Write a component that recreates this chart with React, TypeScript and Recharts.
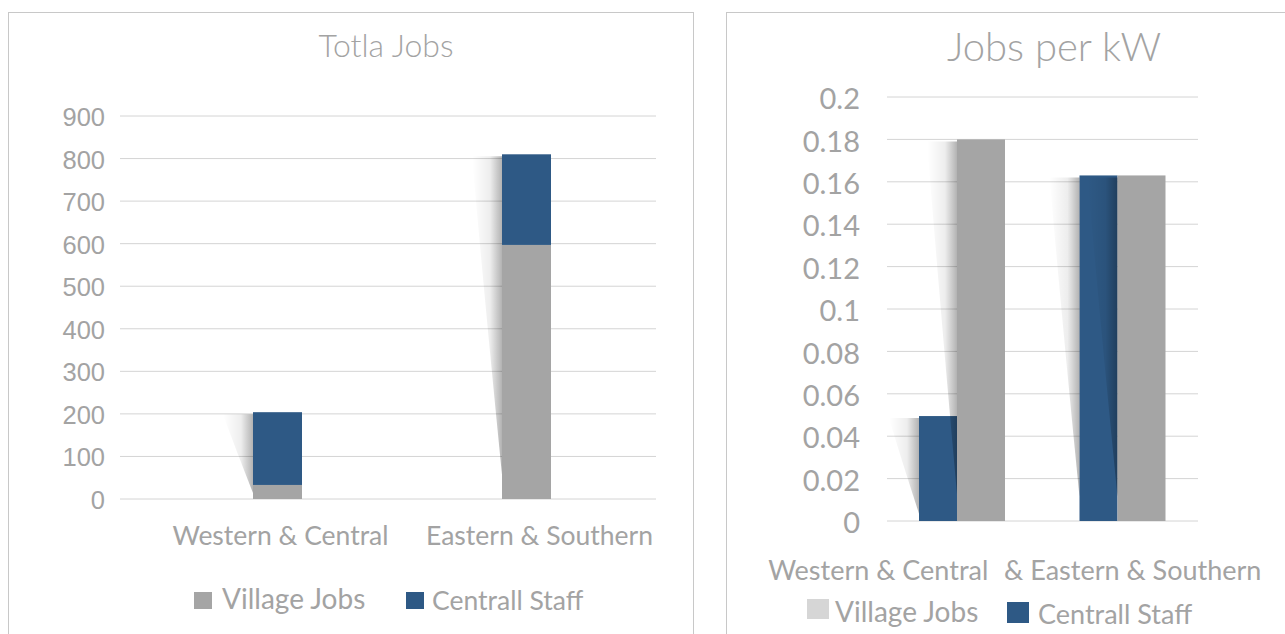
import React from 'react';
import { BarChart, Bar, XAxis, YAxis, CartesianGrid, Legend } from 'recharts';

const regions = ['Western & Central', 'Eastern & Southern'];
const perKwLabels = ['Western & Central', '& Eastern & Southern'];
const villageJobs = [33, 597];
const centralStaff = [171, 213];
const villagePerKw = [0.18, 0.163];
const centralPerKw = [0.0495, 0.163];
const totalTicks = [0, 100, 200, 300, 400, 500, 600, 700, 800, 900];
const perKwTicks = [0, 0.02, 0.04, 0.06, 0.08, 0.1, 0.12, 0.14, 0.16, 0.18, 0.2];
const seriesNames = ['Village Jobs', 'Centrall Staff'];

const totalData = regions.map((r, i) => ({ region: r, village: villageJobs[i], central: centralStaff[i] }));
const perKwData = perKwLabels.map((r, i) => ({ region: r, village: villagePerKw[i], central: centralPerKw[i] }));

const GRAY = '#a5a5a5';
const BLUE = '#2e5985';
const LIGHT = '#d6d6d6';
const TEXT = '#a3a3a3';
const FONT = 'Lato, "Open Sans", sans-serif';

const makeShape = (prefix: string, color: string, shadow: boolean) => (props: any) => {
  const { x, y, width, height, value, index } = props;
  if (width == null || height == null) return null;
  let base = y + height;
  if (Array.isArray(value) && value[1] !== value[0] && height > 0) {
    const ppu = height / (value[1] - value[0]);
    base = y + height + value[0] * ppu;
  }
  const full = base - y;
  const sw = 30;
  const gid = `${prefix}-${index}`;
  return (
    <g>
      <rect x={x} y={y} width={width} height={height} fill={color} />
      {shadow && full > 0 && (
        <g>
          <defs>
            <linearGradient id={gid} x1="0" y1="0" x2="1" y2="0">
              <stop offset="0%" stopColor="#000" stopOpacity={0} />
              <stop offset="60%" stopColor="#000" stopOpacity={0.07} />
              <stop offset="100%" stopColor="#000" stopOpacity={0.3} />
            </linearGradient>
          </defs>
          <path
            d={`M${x},${y + 2} L${x - sw},${y + 2} Q${x - sw * 0.55},${y + full * 0.45} ${x},${y + full * 0.93} Z`}
            fill={`url(#${gid})`}
          />
        </g>
      )}
    </g>
  );
};

const leftTickShift = [3, 13];
const LeftXTick = (props: any) => {
  const { x, y, payload, index } = props;
  return (
    <text x={x + leftTickShift[index]} y={y} dy={37.5} textAnchor="middle" fill={TEXT} fontFamily={FONT} fontSize={26.5}>
      {payload.value}
    </text>
  );
};

const rightTickShift = [-84, 10];
const RightXTick = (props: any) => {
  const { x, y, payload, index } = props;
  return (
    <text x={x + rightTickShift[index]} y={y} dy={51} textAnchor="middle" fill={TEXT} fontFamily={FONT} fontSize={27}>
      {payload.value}
    </text>
  );
};

type Item = { name: string; color: string; sx: number; sy: number; sw: number; sh: number; tx: number; ty: number; fs: number };
const LegendItems = ({ items }: { items: Item[] }) => (
  <div style={{ position: 'relative', width: '100%', height: '100%' }}>
    {items.map((it) => (
      <React.Fragment key={it.name}>
        <div style={{ position: 'absolute', left: it.sx, top: it.sy, width: it.sw, height: it.sh, background: it.color }} />
        <div
          style={{
            position: 'absolute',
            left: it.tx,
            top: it.ty - it.fs * 0.6,
            fontSize: it.fs,
            lineHeight: `${it.fs * 1.2}px`,
            color: TEXT,
            fontFamily: FONT,
            whiteSpace: 'nowrap',
          }}
        >
          {it.name}
        </div>
      </React.Fragment>
    ))}
  </div>
);

export default function App() {
  return (
    <div style={{ position: 'absolute', left: 0, top: 0, width: 1285, height: 634, overflow: 'hidden', background: '#fff' }}>
      <div style={{ position: 'absolute', left: 8, top: 12, width: 684, height: 640, border: '1px solid #c8c8c8' }} />
      <div style={{ position: 'absolute', left: 726, top: 12, width: 600, height: 640, border: '1px solid #c8c8c8' }} />

      <div style={{ position: 'absolute', left: 8, top: 12, width: 685, height: 622 }}>
        <div style={{ position: 'absolute', left: 0, width: 756, top: 16.5, lineHeight: '32px', textAlign: 'center', fontFamily: FONT, fontWeight: 300, fontSize: 32, color: TEXT }}>
          Totla Jobs
        </div>
        <BarChart width={685} height={622} data={totalData} margin={{ top: 104, right: 37, left: 52, bottom: 95 }} barSize={49}>
          <CartesianGrid vertical={false} stroke="#d4d4d4" strokeWidth={1} />
          <XAxis dataKey="region" axisLine={false} tickLine={false} height={40} padding={{ left: 33, right: 5 }} tick={<LeftXTick />} interval={0} />
          <YAxis
            width={60}
            domain={[0, 900]}
            ticks={totalTicks}
            axisLine={false}
            tickLine={false}
            tickMargin={9}
            tick={{ fill: TEXT, fontSize: 25.5, fontFamily: '"Liberation Sans", Arial, sans-serif', dy: 1 }}
          />
          <Bar dataKey="village" stackId="a" fill={GRAY} isAnimationActive={false} shape={makeShape('lv', GRAY, false)} />
          <Bar dataKey="central" stackId="a" fill={BLUE} isAnimationActive={false} shape={makeShape('lc', BLUE, true)} />
          <Legend
            verticalAlign="middle"
            align="center"
            wrapperStyle={{ left: 0, top: 0, width: 685, height: 622, pointerEvents: 'none' }}
            content={() => (
              <LegendItems
                items={[
                  { name: seriesNames[0], color: GRAY, sx: 186, sy: 580, sw: 18, sh: 17, tx: 214, ty: 587, fs: 28 },
                  { name: seriesNames[1], color: BLUE, sx: 398, sy: 580, sw: 18, sh: 17, tx: 424, ty: 589, fs: 26.5 },
                ]}
              />
            )}
          />
        </BarChart>
      </div>

      <div style={{ position: 'absolute', left: 726, top: 12, width: 559, height: 622 }}>
        <div style={{ position: 'absolute', left: 0, width: 656, top: 13.5, lineHeight: '40px', textAlign: 'center', fontFamily: FONT, fontWeight: 300, fontSize: 40, color: TEXT }}>
          Jobs per kW
        </div>
        <BarChart width={559} height={622} data={perKwData} margin={{ top: 85, right: 87, left: 101, bottom: 73 }} barGap={0}>
          <CartesianGrid vertical={false} stroke="#d4d4d4" strokeWidth={1} />
          <XAxis dataKey="region" axisLine={false} tickLine={false} height={40} padding={{ left: -5, right: -5 }} tick={<RightXTick />} interval={0} />
          <YAxis
            width={60}
            domain={[0, 0.2]}
            ticks={perKwTicks}
            axisLine={false}
            tickLine={false}
            tickMargin={21}
            tickFormatter={(v: number) => String(Number(v.toFixed(2)))}
            tick={{ fill: TEXT, fontSize: 29, fontFamily: FONT, dy: 2 }}
          />
          <Bar dataKey="central" fill={BLUE} barSize={38} isAnimationActive={false} shape={makeShape('rc', BLUE, true)} />
          <Bar dataKey="village" fill={GRAY} barSize={48} isAnimationActive={false} shape={makeShape('rv', GRAY, true)} />
          <Legend
            verticalAlign="middle"
            align="center"
            wrapperStyle={{ left: 0, top: 0, width: 559, height: 622, pointerEvents: 'none' }}
            content={() => (
              <LegendItems
                items={[
                  { name: seriesNames[0], color: LIGHT, sx: 81, sy: 587, sw: 22, sh: 20, tx: 109, ty: 600, fs: 28 },
                  { name: seriesNames[1], color: BLUE, sx: 281, sy: 590, sw: 22, sh: 21, tx: 312, ty: 602, fs: 27 },
                ]}
              />
            )}
          />
        </BarChart>
      </div>
    </div>
  );
}
